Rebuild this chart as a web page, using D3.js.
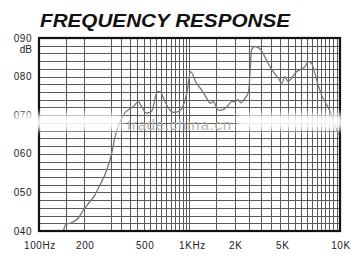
<!DOCTYPE html>
<html>
<head>
<meta charset="utf-8">
<script src="https://cdn.jsdelivr.net/npm/d3@7"></script>
<style>
    body { margin: 0; background: #fff; }
    svg { display: block; }
    text { font-family: "Liberation Sans", Arial, sans-serif; }
</style>
</head>
<body>
<svg id="chart"></svg>
<script>
// response curve (Hz, dB)
const freqs = [145, 150, 165, 182, 197, 218, 235, 254, 282, 304, 320, 345, 370, 395, 423, 457, 481, 519, 560, 612, 636, 687, 742, 787, 843, 910, 968, 1016, 1112, 1206, 1300, 1371, 1443, 1554, 1639, 1775, 1907, 2002, 2100, 2200, 2300, 2470, 2530, 2580, 2720, 2920, 3080, 3330, 3600, 3890, 4100, 4300, 4510, 4770, 5160, 5500, 5850, 6150, 6480, 7000, 7550, 8180, 8600, 9230, 9800];
const levels = [39.8, 41.6, 42.2, 43.3, 45.4, 47.6, 49.3, 51.9, 55.8, 60.1, 64.4, 68.3, 70.5, 71.5, 72.2, 73.5, 72.2, 70.5, 71.0, 76.1, 76.1, 73.5, 71.3, 70.7, 70.9, 72.6, 76.5, 81.3, 78.3, 76.5, 74.4, 73.1, 73.5, 71.3, 71.3, 72.2, 73.5, 73.5, 74.0, 73.2, 74.0, 76.1, 81.7, 86.9, 87.8, 87.3, 86.0, 83.4, 81.3, 79.6, 78.3, 80.0, 78.7, 79.6, 81.3, 81.9, 82.6, 83.9, 83.4, 79.1, 75.2, 72.6, 70.9, 67.5, 65.0];

const xTickFreqs = [100, 200, 500, 1000, 2000, 5000, 10000];
const xTickLabels = ['100Hz', '200', '500', '1KHz', '2K', '5K', '10K'];
const yTickValues = [90, 80, 70, 60, 50, 40];
const yTickLabels = ['090', '080', '070', '060', '050', '040'];

// vertical grid: 150, 200, 300..1000 by 50, 1500, 2000..10000 by 500
const gridFreqs = [150, 200].concat(d3.range(300, 1001, 50), [1500], d3.range(2000, 10001, 500));
const gridLevels = d3.range(40, 91, 2);

const width = 358, height = 260;
const margin = { top: 38, right: 18, bottom: 29, left: 39 };

const svg = d3.select('#chart')
    .attr('width', width)
    .attr('height', height);

const x = d3.scaleLog()
    .domain([100, 10000])
    .range([margin.left, width - margin.right]);

const y = d3.scaleLinear()
    .domain([40, 90])
    .range([height - margin.bottom, margin.top]);

svg.append('text')
    .attr('x', 40)
    .attr('y', 27)
    .attr('textLength', 250)
    .attr('lengthAdjust', 'spacingAndGlyphs')
    .style('font-size', '17.5px')
    .style('font-weight', 'bold')
    .style('font-style', 'italic')
    .style('fill', '#111')
    .text('FREQUENCY RESPONSE');

const grid = svg.append('g').attr('stroke', '#5a5a5a').attr('stroke-width', 1);

grid.selectAll('.hline')
    .data(gridLevels)
    .join('line')
    .attr('x1', x(100))
    .attr('x2', x(10000))
    .attr('y1', d => Math.round(y(d)) + 0.5)
    .attr('y2', d => Math.round(y(d)) + 0.5);

grid.selectAll('.vline')
    .data(gridFreqs)
    .join('line')
    .attr('x1', d => Math.round(x(d)) + 0.5)
    .attr('x2', d => Math.round(x(d)) + 0.5)
    .attr('y1', y(40))
    .attr('y2', y(90));

const line = d3.line()
    .x((d, i) => x(freqs[i]))
    .y(d => y(d))
    .curve(d3.curveMonotoneX);

svg.append('path')
    .datum(levels)
    .attr('d', line)
    .attr('fill', 'none')
    .attr('stroke', '#777')
    .attr('stroke-width', 1.3);

svg.append('rect')
    .attr('x', x(100))
    .attr('y', y(90))
    .attr('width', x(10000) - x(100))
    .attr('height', y(40) - y(90))
    .attr('fill', 'none')
    .attr('stroke', '#111')
    .attr('stroke-width', 2.2);

// y labels
svg.append('g')
    .selectAll('text')
    .data(yTickValues)
    .join('text')
    .attr('x', 32)
    .attr('y', d => y(d))
    .attr('dy', '0.35em')
    .attr('text-anchor', 'end')
    .style('font-size', '10px')
    .style('letter-spacing', '0.5px')
    .style('fill', '#222')
    .text((d, i) => yTickLabels[i]);

svg.append('text')
    .attr('x', 32)
    .attr('y', y(86.9))
    .attr('dy', '0.35em')
    .attr('text-anchor', 'end')
    .style('font-size', '10px')
    .style('fill', '#222')
    .text('dB');

// x labels
svg.append('g')
    .selectAll('text')
    .data(xTickFreqs)
    .join('text')
    .attr('x', d => x(d))
    .attr('dx', d => d === 5000 ? -12 : (d === 1000 ? 3 : 1))
    .attr('y', 249)
    .attr('text-anchor', 'middle')
    .style('font-size', '10px')
    .style('letter-spacing', '0.6px')
    .style('fill', '#222')
    .text((d, i) => xTickLabels[i]);

// watermark band
const defs = svg.append('defs');
defs.append('filter')
    .attr('id', 'blur')
    .attr('x', '-20%').attr('y', '-50%')
    .attr('width', '140%').attr('height', '200%')
    .append('feGaussianBlur')
    .attr('stdDeviation', 3);

const wm = svg.append('g').attr('filter', 'url(#blur)').attr('fill', '#fff').attr('opacity', 0.92);
wm.append('rect').attr('x', 14).attr('y', 114).attr('width', 108).attr('height', 16);
wm.append('rect').attr('x', 237).attr('y', 114).attr('width', 108).attr('height', 16);

svg.append('text')
    .attr('x', 127)
    .attr('y', 130)
    .attr('textLength', 104)
    .style('font-size', '15px')
    .style('fill', '#b4b4b4')
    .text('trade.china.cn');
</script>
</body>
</html>
